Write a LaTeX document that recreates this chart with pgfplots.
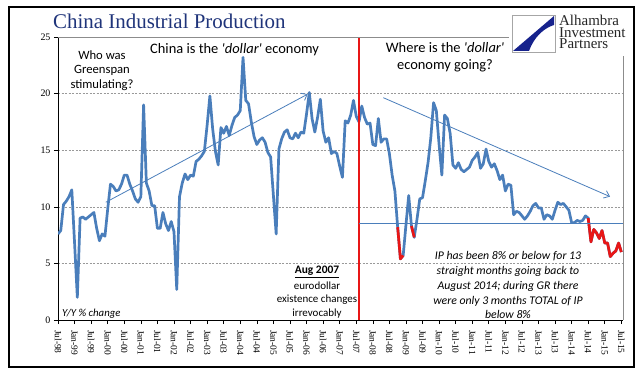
\documentclass[border=0pt]{standalone}
\usepackage{pgfplots}
\pgfplotsset{compat=1.18}
\usepackage{pgfplotstable}
\usepackage{fontspec}
\setmainfont{Liberation Serif}
\newfontfamily\calib{Carlito}
\usetikzlibrary{arrows.meta}
\definecolor{ipblue}{RGB}{74,126,187}
\definecolor{ipred}{RGB}{232,22,22}
\definecolor{navy}{RGB}{31,52,122}
\definecolor{logoblue}{RGB}{22,34,140}

\pgfplotstableread{
m v
0 7.6
1 7.9
2 10.2
3 10.5
4 10.9
5 11.5
6 6.8
7 2.0
8 9.0
9 9.1
10 8.9
11 9.1
12 9.3
13 9.5
14 8.1
15 7.0
16 7.6
17 7.4
18 9.8
19 12.0
20 11.8
21 11.4
22 11.5
23 12.0
24 12.8
25 12.8
26 12.0
27 11.4
28 10.7
29 10.4
30 10.9
31 19.0
32 12.1
33 11.4
34 10.1
35 10.1
36 8.1
37 8.1
38 9.5
39 8.5
40 7.9
41 8.7
42 7.8
43 2.7
44 10.9
45 12.1
46 12.9
47 12.4
48 12.8
49 12.7
50 14.0
51 14.2
52 14.5
53 14.9
54 17.2
55 19.8
56 16.9
57 14.9
58 13.7
59 17.0
60 16.5
61 17.1
62 16.3
63 17.2
64 17.9
65 18.1
66 18.5
67 23.2
68 19.4
69 19.1
70 17.5
71 16.2
72 15.5
73 15.9
74 16.1
75 15.7
76 14.8
77 14.4
78 11.0
79 7.6
80 15.1
81 16.0
82 16.6
83 16.8
84 16.1
85 16.0
86 16.5
87 16.1
88 16.6
89 16.5
90 18.2
91 20.1
92 17.8
93 16.6
94 17.9
95 19.5
96 16.7
97 15.7
98 16.1
99 14.7
100 14.9
101 14.7
102 13.6
103 12.6
104 17.6
105 17.4
106 18.1
107 19.4
108 18.0
109 17.5
110 18.9
111 17.9
112 17.3
113 17.4
114 15.5
115 15.4
116 17.8
117 15.7
118 16.0
119 16.0
120 14.7
121 12.8
122 11.4
123 8.2
124 5.4
125 5.7
126 8.4
127 11.0
128 8.3
129 7.3
130 8.9
131 10.7
132 10.8
133 12.3
134 13.9
135 16.1
136 19.2
137 18.5
138 15.5
139 12.8
140 18.1
141 17.8
142 16.5
143 13.7
144 13.4
145 13.9
146 13.3
147 13.1
148 13.3
149 13.5
150 14.1
151 14.4
152 14.8
153 13.4
154 13.8
155 15.1
156 14.0
157 13.5
158 13.8
159 13.2
160 12.4
161 12.8
162 11.4
163 12.0
164 11.9
165 9.3
166 9.6
167 9.5
168 9.2
169 8.9
170 9.2
171 9.6
172 10.1
173 10.3
174 9.9
175 9.9
176 8.9
177 9.3
178 9.2
179 8.9
180 9.7
181 10.4
182 10.2
183 10.3
184 10.0
185 9.7
186 8.6
187 8.6
188 8.8
189 8.7
190 8.8
191 9.2
192 9.0
193 6.9
194 8.0
195 7.7
196 7.2
197 7.9
198 6.8
199 6.8
200 5.6
201 5.9
202 6.1
203 6.8
204 6.0
}\ipdata

\pgfplotstableread{
m v
123 8.2
124 5.4
125 5.7
}\redA

\pgfplotstableread{
m v
128 8.3
129 7.3
}\redB

\pgfplotstableread{
m v
192 9.0
193 6.9
194 8.0
195 7.7
196 7.2
197 7.9
198 6.8
199 6.8
200 5.6
201 5.9
202 6.1
203 6.8
204 6.0
}\redC

\begin{document}
\begin{tikzpicture}
\path[use as bounding box] (-58bp,-59bp) rectangle (583bp,320bp);
\fill[white] (-58bp,-59bp) rectangle (583bp,320bp);
\draw[black, line width=1.2bp] (-49bp,-47bp) rectangle (576bp,313bp);

\begin{axis}[
  at={(0,0)}, anchor=south west,
  scale only axis, width=565bp, height=283bp,
  xmin=0, xmax=204.6, ymin=0, ymax=25,
  axis x line*=bottom, axis y line*=left,
  x axis line style={black, line width=0.8bp},
  y axis line style={black, line width=0.8bp},
  xtick={0,6,...,204},
  xticklabels={Jul-98,Jan-99,Jul-99,Jan-00,Jul-00,Jan-01,Jul-01,Jan-02,Jul-02,Jan-03,Jul-03,Jan-04,Jul-04,Jan-05,Jul-05,Jan-06,Jul-06,Jan-07,Jul-07,Jan-08,Jul-08,Jan-09,Jul-09,Jan-10,Jul-10,Jan-11,Jul-11,Jan-12,Jul-12,Jan-13,Jul-13,Jan-14,Jul-14,Jan-15,Jul-15},
  ytick={0,5,...,25},
  tick align=outside,
  major tick length=4bp,
  tick style={black, line width=0.6bp},
  xticklabel shift=2.5bp,
  xticklabel style={rotate=-90, anchor=west, font=\fontsize{9.5}{10}\selectfont},
  yticklabel style={font=\fontsize{10}{12}\selectfont},
  /pgf/number format/assume math mode=true,
  ymajorgrids,
  major grid style={draw=black!40, dash pattern=on 2bp off 1.5bp, line width=0.5bp},
]
\addplot[ipblue, line width=2.7bp, line join=round, mark=none] table[x=m,y=v]{\ipdata};
\addplot[ipred, line width=2.7bp, line join=round, mark=none] table[x=m,y=v]{\redA};
\addplot[ipred, line width=2.7bp, line join=round, mark=none] table[x=m,y=v]{\redB};
\addplot[ipred, line width=2.7bp, line join=round, mark=none] table[x=m,y=v]{\redC};
\draw[ipred, line width=2.2bp] (axis cs:109,0) -- (axis cs:109,25);
\draw[ipblue, line width=0.8bp] (axis cs:109,8.55) -- (axis cs:204.6,8.55);
\draw[ipblue, line width=0.8bp, -{Straight Barb[length=5bp,width=8bp]}] (axis cs:17.3,10.4) -- (axis cs:90.4,19.95);
\draw[ipblue, line width=0.8bp, -{Straight Barb[length=5bp,width=8bp]}] (axis cs:117.8,19.64) -- (axis cs:199.9,10.9);
\end{axis}

% plot area border (top, right)
\draw[black!45, line width=0.6bp] (0bp,283bp) -- (565bp,283bp) -- (565bp,0bp);

% logo
\fill[white] (451bp,264bp) rectangle (573bp,309bp);
\draw[black!35, line width=0.5bp] (454bp,268bp) rectangle (497bp,305bp);
\fill[logoblue] (496bp,304bp) -- (455bp,269bp) -- (471bp,269bp) .. controls (476bp,283bp) and (486bp,292bp) .. (496bp,295bp) -- cycle;
\node[anchor=north west, inner sep=0, align=left, font=\fontsize{15}{12}\selectfont, text=black!85] at (501bp,305.5bp) {Alhambra\\Investment\\Partners};

% title
\node[anchor=base west, inner sep=0, font=\fontsize{21}{24}\selectfont, text=navy] at (-5bp,291bp) {China Industrial Production};

% annotations
\node[anchor=base, inner sep=0, font=\calib\fontsize{12.7}{15}\selectfont] at (44bp,260.5bp) {Who was};
\node[anchor=base, inner sep=0, font=\calib\fontsize{12.7}{15}\selectfont] at (44bp,246bp) {Greenspan};
\node[anchor=base, inner sep=0, font=\calib\fontsize{12.7}{15}\selectfont] at (44bp,231bp) {stimulating?};

\node[anchor=base west, inner sep=0, font=\calib\fontsize{14.5}{17}\selectfont] at (92bp,266bp) {China is the \textit{'dollar'} economy};

\node[anchor=base, inner sep=0, font=\calib\fontsize{14.5}{17}\selectfont] at (387bp,267bp) {Where is the \textit{'dollar'}};
\node[anchor=base, inner sep=0, font=\calib\fontsize{14.5}{17}\selectfont] at (387bp,250bp) {economy going?};

\node[anchor=base, inner sep=0, font=\calib\fontsize{11.5}{13}\selectfont] at (259bp,46bp) {\underline{\textbf{Aug 2007}}};
\node[anchor=base, inner sep=0, font=\calib\fontsize{11}{13}\selectfont] at (259bp,31bp) {eurodollar};
\node[anchor=base, inner sep=0, font=\calib\fontsize{11}{13}\selectfont] at (259bp,17.5bp) {existence changes};
\node[anchor=base, inner sep=0, font=\calib\fontsize{11}{13}\selectfont] at (259bp,4bp) {irrevocably};

\node[anchor=base, inner sep=0, font=\calib\itshape\fontsize{11.8}{14}\selectfont] at (450bp,60bp) {IP has been 8\% or below for 13};
\node[anchor=base, inner sep=0, font=\calib\itshape\fontsize{11.8}{14}\selectfont] at (450bp,45bp) {straight months going back to};
\node[anchor=base, inner sep=0, font=\calib\itshape\fontsize{11.8}{14}\selectfont] at (450bp,30.5bp) {August 2014; during GR there};
\node[anchor=base, inner sep=0, font=\calib\itshape\fontsize{11.8}{14}\selectfont] at (450bp,16bp) {were only 3 months TOTAL of IP};
\node[anchor=base, inner sep=0, font=\calib\itshape\fontsize{11.8}{14}\selectfont] at (450bp,1.8bp) {below 8\%};

\node[anchor=base west, inner sep=0, font=\calib\itshape\fontsize{10.8}{13}\selectfont] at (4bp,4bp) {Y/Y \% change};
\end{tikzpicture}
\end{document}
